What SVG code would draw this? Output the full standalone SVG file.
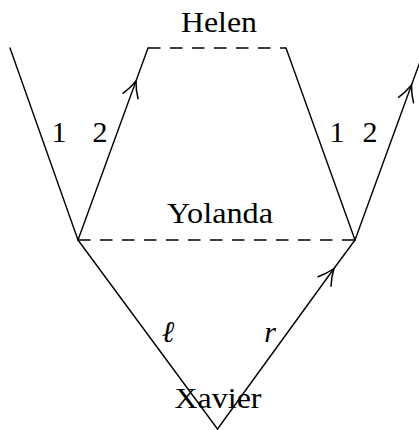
<svg xmlns="http://www.w3.org/2000/svg" width="419" height="430" viewBox="0 0 419 430">
  <style>
    .ln { fill: none; stroke: #000; stroke-width: 1.4; stroke-linecap: round; stroke-linejoin: round; }
    .dash { fill: none; stroke: #000; stroke-width: 1.4; stroke-dasharray: 12.5 9.5; }
    .lbl { font-family: "Liberation Serif", "DejaVu Serif", serif; font-size: 30px; fill: #000; text-anchor: middle; }
    .it { font-style: italic; }
  </style>
  <defs>
    <marker id="arr" markerUnits="userSpaceOnUse" markerWidth="40" markerHeight="40" refX="0" refY="0" orient="auto" overflow="visible" viewBox="-20 -20 40 40">
      <path d="M-16,-8 C-10,-4 -3,-1 0,0 C-3,1 -10,4 -16,8" fill="none" stroke="#000" stroke-width="1.5" stroke-linecap="round"/>
    </marker>
  </defs>
  <g id="connectors">
    <path class="ln" d="M10,48 L78,240"/>
    <path class="ln" d="M78,240 L136,81 L148,48" marker-mid="url(#arr)"/>
    <path class="dash" d="M148,48 L286,48"/>
    <path class="ln" d="M286,48 L355,240"/>
    <path class="ln" d="M355,240 L411.5,85 L425,48" marker-mid="url(#arr)"/>
    <path class="dash" d="M78,240 L355,240"/>
    <path class="ln" d="M78,240 L217.5,429"/>
    <path class="ln" d="M217.5,429 L334,268.5 L355,240" marker-mid="url(#arr)"/>
  </g>
  <g id="helen"><text class="lbl" x="219" y="32" textLength="76" lengthAdjust="spacingAndGlyphs">Helen</text></g>
  <g id="yolanda"><text class="lbl" x="220" y="223" textLength="106" lengthAdjust="spacingAndGlyphs">Yolanda</text></g>
  <g id="xavier"><text class="lbl" x="218" y="408" textLength="87" lengthAdjust="spacingAndGlyphs">Xavier</text></g>
  <g id="labels">
    <text class="lbl" x="59" y="142">1</text>
    <text class="lbl" x="100" y="142">2</text>
    <text class="lbl" x="337" y="142">1</text>
    <text class="lbl" x="370" y="142">2</text>
    <text class="lbl it" x="168" y="342">ℓ</text>
    <text class="lbl it" x="270" y="342">r</text>
  </g>
</svg>
